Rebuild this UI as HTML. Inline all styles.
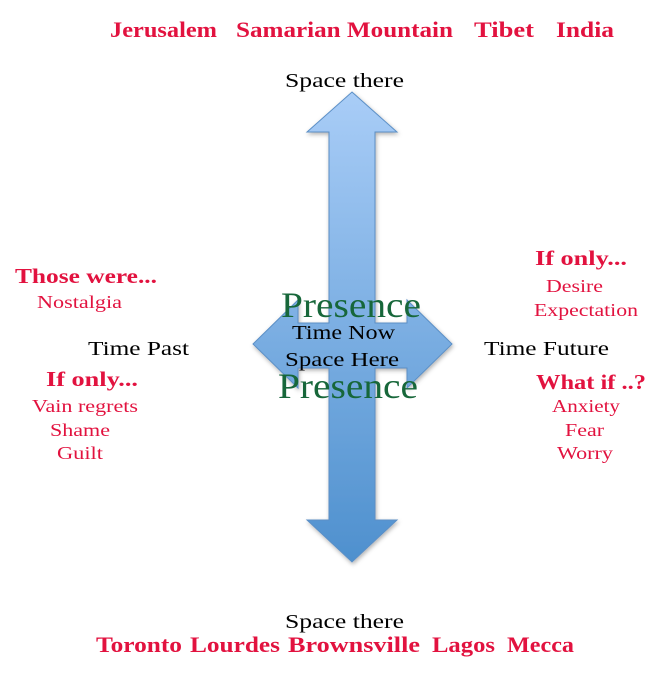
<!DOCTYPE html>
<html><head><meta charset="utf-8"><style>html,body{margin:0;padding:0;background:#fff}svg{display:block}</style></head>
<body>
<svg width="663" height="676" viewBox="0 0 663 676" xmlns="http://www.w3.org/2000/svg" font-family="Liberation Serif, serif">
<defs>
<linearGradient id="g" x1="0" y1="0" x2="0" y2="1">
<stop offset="0" stop-color="#a9cdf7"/><stop offset="1" stop-color="#4e90ce"/>
</linearGradient>
<filter id="s" x="-20%" y="-10%" width="140%" height="120%"><feDropShadow dx="1" dy="2" stdDeviation="2" flood-color="#000" flood-opacity="0.3"/></filter>
</defs>
<g filter="url(#s)" fill="url(#g)" stroke="#5b8fc6" stroke-width="1" >
<path d="M352,92 L397,132 L375,132 L375,323 L407,323 L407,300 L452,344 L407,388 L407,368 L375,368 L375,520 L397,520 L352,562 L307,520 L329,520 L329,368 L298,368 L298,388 L253,344 L298,300 L298,323 L329,323 L329,132 L307,132 Z"/>
</g>
<g fill="#e2123f" font-weight="bold" font-size="22">
<text x="110" y="37" textLength="107" lengthAdjust="spacingAndGlyphs">Jerusalem</text>
<text x="236" y="37" textLength="217" lengthAdjust="spacingAndGlyphs">Samarian Mountain</text>
<text x="474" y="37" textLength="60" lengthAdjust="spacingAndGlyphs">Tibet</text>
<text x="556" y="37" textLength="58" lengthAdjust="spacingAndGlyphs">India</text>
<text x="96" y="652" textLength="86" lengthAdjust="spacingAndGlyphs">Toronto</text>
<text x="190" y="652" textLength="90" lengthAdjust="spacingAndGlyphs">Lourdes</text>
<text x="288" y="652" textLength="132" lengthAdjust="spacingAndGlyphs">Brownsville</text>
<text x="432" y="652" textLength="63" lengthAdjust="spacingAndGlyphs">Lagos</text>
<text x="507" y="652" textLength="67" lengthAdjust="spacingAndGlyphs">Mecca</text>
<text x="15" y="283" font-size="21" textLength="142" lengthAdjust="spacingAndGlyphs">Those were...</text>
<text x="46" y="386" font-size="21" textLength="92" lengthAdjust="spacingAndGlyphs">If only...</text>
<text x="535" y="265" font-size="21" textLength="92" lengthAdjust="spacingAndGlyphs">If only...</text>
<text x="536" y="389" font-size="21" textLength="110" lengthAdjust="spacingAndGlyphs">What if ..?</text>
</g>
<g fill="#e2123f" font-size="18">
<text x="37" y="308" textLength="85" lengthAdjust="spacingAndGlyphs">Nostalgia</text>
<text x="32" y="412" textLength="106" lengthAdjust="spacingAndGlyphs">Vain regrets</text>
<text x="50" y="436" textLength="60" lengthAdjust="spacingAndGlyphs">Shame</text>
<text x="57" y="459" textLength="46" lengthAdjust="spacingAndGlyphs">Guilt</text>
<text x="546" y="292" textLength="57" lengthAdjust="spacingAndGlyphs">Desire</text>
<text x="534" y="316" textLength="104" lengthAdjust="spacingAndGlyphs">Expectation</text>
<text x="552" y="412" textLength="68" lengthAdjust="spacingAndGlyphs">Anxiety</text>
<text x="565" y="436" textLength="39" lengthAdjust="spacingAndGlyphs">Fear</text>
<text x="557" y="459" textLength="56" lengthAdjust="spacingAndGlyphs">Worry</text>
</g>
<g fill="#000" font-size="20">
<text x="285" y="87" textLength="119" lengthAdjust="spacingAndGlyphs">Space there</text>
<text x="285" y="628" textLength="119" lengthAdjust="spacingAndGlyphs">Space there</text>
<text x="88" y="355" textLength="101" lengthAdjust="spacingAndGlyphs">Time Past</text>
<text x="484" y="355" textLength="125" lengthAdjust="spacingAndGlyphs">Time Future</text>
<text x="292" y="339" textLength="103" lengthAdjust="spacingAndGlyphs">Time Now</text>
<text x="285" y="366" textLength="114" lengthAdjust="spacingAndGlyphs">Space Here</text>
</g>
<g fill="#17673a" font-size="36">
<text x="281" y="317" textLength="140" lengthAdjust="spacingAndGlyphs">Presence</text>
<text x="278" y="398" textLength="140" lengthAdjust="spacingAndGlyphs">Presence</text>
</g>
</svg>
</body></html>
